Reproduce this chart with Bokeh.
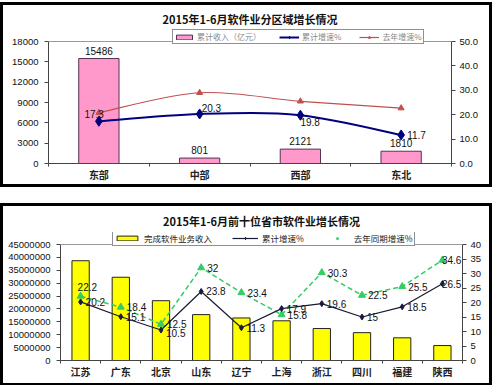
from bokeh.plotting import figure
from bokeh.models import (Range1d, LinearAxis, FixedTicker, NumeralTickFormatter,
                          Legend, LegendItem, Span)
from bokeh.layouts import column
from bokeh.embed import file_html
from bokeh.resources import INLINE
from bokeh.core.properties import value

# ---------------- data: top chart ----------------
title_top = "2015年1-6月软件业分区域增长情况"
regions = ["东部", "中部", "西部", "东北"]
region_revenue = [15486, 801, 2121, 1810]
region_growth = [17.3, 20.3, 19.8, 11.7]
region_growth_last = [20.8, 29.0, 25.5, 22.7]
top_left_ticks = [0, 3000, 6000, 9000, 12000, 15000, 18000]
top_right_ticks = [0, 10, 20, 30, 40, 50]
top_legend = ["累计收入（亿元）", "累计增速%", "去年增速%"]

# ---------------- data: bottom chart ----------------
title_bot = "2015年1-6月前十位省市软件业增长情况"
provinces = ["江苏", "广东", "北京", "山东", "辽宁", "上海", "浙江", "四川", "福建", "陕西"]
prov_revenue = [38700000, 32300000, 23200000, 17800000, 16500000,
                15400000, 12400000, 10800000, 8800000, 5800000]
prov_growth = [20.2, 15.1, 10.5, 23.8, 11.3, 17.9, 19.6, 15, 18.5, 26.5]
prov_growth_last = [22.2, 18.4, 12.5, 32, 23.4, 15.8, 30.3, 22.5, 25.5, 34.6]
bot_left_ticks = [0, 5000000, 10000000, 15000000, 20000000, 25000000,
                  30000000, 35000000, 40000000, 45000000]
bot_right_ticks = [0, 5, 10, 15, 20, 25, 30, 35, 40]
bot_legend = ["完成软件业务收入", "累计增速%", "去年同期增速%"]

CJK = "Noto Sans CJK SC"
LAT = "Liberation Sans"
GRAY = "#444444"


def smooth(xs, ys):
    n = len(xs)
    d = dict(x0=[], y0=[], x1=[], y1=[], cx0=[], cy0=[], cx1=[], cy1=[])
    for i in range(n - 1):
        a = max(i - 1, 0)
        b = min(i + 2, n - 1)
        d["x0"].append(xs[i]); d["y0"].append(ys[i])
        d["x1"].append(xs[i + 1]); d["y1"].append(ys[i + 1])
        d["cx0"].append(xs[i] + (xs[i + 1] - xs[a]) / 6)
        d["cy0"].append(ys[i] + (ys[i + 1] - ys[a]) / 6)
        d["cx1"].append(xs[i + 1] - (xs[b] - xs[i]) / 6)
        d["cy1"].append(ys[i + 1] - (ys[b] - ys[i]) / 6)
    return d


def base_fig(title, cats, left_ticks, right_ticks, right_fmt, fw, fh, extra, mb, standoff):
    n = len(cats)
    xs = [i + 0.5 for i in range(n)]
    grow = (fh + extra) / fh          # head-room above the top tick for the legend
    lmax, rmax = left_ticks[-1], right_ticks[-1]
    p = figure(frame_width=fw, frame_height=fh + extra,
               x_range=Range1d(0, n), y_range=Range1d(0, lmax * grow),
               output_backend="svg", toolbar_location=None, title=title,
               min_border_left=mb[0], min_border_right=mb[1],
               min_border_top=mb[2], min_border_bottom=mb[3])
    p.title.align = "center"
    p.title.text_font = CJK
    p.title.text_font_size = "11px"
    p.title.text_font_style = "bold"
    p.title.text_color = "#111111"
    p.title.standoff = standoff
    p.xgrid.visible = False
    p.ygrid.visible = False
    p.outline_line_color = None
    p.background_fill_color = "white"
    p.border_fill_color = "white"
    p.add_layout(Span(location=lmax, dimension="width", line_color="#9a9a9a", line_width=1))

    xa = p.xaxis[0]
    xa.ticker = FixedTicker(ticks=xs, minor_ticks=list(range(n + 1)))
    xa.major_label_overrides = {x: c for x, c in zip(xs, cats)}
    xa.major_tick_line_color = None
    xa.major_tick_out = 0
    xa.major_tick_in = 0
    xa.minor_tick_in = 0
    xa.minor_tick_out = 3
    xa.minor_tick_line_color = GRAY
    xa.axis_line_color = GRAY
    xa.major_label_text_font = CJK
    xa.major_label_text_font_size = "10px"
    xa.major_label_text_font_style = "bold"
    xa.major_label_text_color = "#222222"
    xa.major_label_standoff = 0

    ya = p.yaxis[0]
    ya.ticker = FixedTicker(ticks=left_ticks)
    ya.formatter = NumeralTickFormatter(format="0")
    ya.bounds = (0, lmax)
    ya.major_tick_in = 0
    ya.major_tick_out = 4
    ya.axis_line_color = GRAY
    ya.major_tick_line_color = GRAY
    ya.major_label_text_font = LAT
    ya.major_label_text_font_size = "9.5px"
    ya.major_label_text_color = "#111111"
    ya.major_label_standoff = 6

    p.extra_y_ranges = {"r": Range1d(0, rmax * grow)}
    ra = LinearAxis(y_range_name="r", ticker=FixedTicker(ticks=right_ticks),
                    formatter=NumeralTickFormatter(format=right_fmt), bounds=(0, rmax))
    ra.major_tick_in = 0
    ra.major_tick_out = 4
    ra.axis_line_color = GRAY
    ra.major_tick_line_color = GRAY
    ra.major_label_text_font = LAT
    ra.major_label_text_font_size = "9.5px"
    ra.major_label_text_color = "#111111"
    ra.major_label_standoff = 4
    p.add_layout(ra, "right")
    return p, xs


def num_labels(p, xs, ys, texts, dx, dy, align="left", rname=None, baseline="middle"):
    kw = {}
    if rname:
        kw["y_range_name"] = rname
    p.text(x=xs, y=ys, text=texts, x_offset=dx, y_offset=dy,
           text_font=value(LAT), text_font_size="10px", text_color="#111111",
           text_align=align, text_baseline=baseline, **kw)


# ================= top figure =================
p1, xs1 = base_fig(title_top, regions, top_left_ticks, top_right_ticks, "0.0",
                   403, 122, 12, (45, 38, 24, 19), 6)

bars1 = p1.vbar(x=xs1, top=region_revenue, width=0.4, fill_color="#ff99cc",
                line_color="#553355", line_width=1)
red_line = p1.bezier(line_color="#c0504d", line_width=1.2, y_range_name="r",
                     **smooth(xs1, region_growth_last))
red_pts = p1.scatter(xs1, region_growth_last, marker="triangle", size=6,
                     color="#c0504d", y_range_name="r")
blue_line = p1.bezier(line_color="#000080", line_width=2, y_range_name="r",
                      **smooth(xs1, region_growth))
blue_pts = p1.scatter(xs1, region_growth, marker="diamond", size=10,
                      color="#000080", y_range_name="r")

num_labels(p1, xs1, region_revenue, [str(v) for v in region_revenue], 0, -4,
           align="center", baseline="bottom")
g = [str(v) for v in region_growth]
num_labels(p1, xs1[0:1], region_growth[0:1], g[0:1], 5, -7, align="right", rname="r")
num_labels(p1, xs1[1:2], region_growth[1:2], g[1:2], 2, -6, rname="r")
num_labels(p1, xs1[2:3], region_growth[2:3], g[2:3], 0, 7, rname="r")
num_labels(p1, xs1[3:4], region_growth[3:4], g[3:4], 6, 0, rname="r")

leg1 = Legend(items=[LegendItem(label=top_legend[0], renderers=[bars1]),
                     LegendItem(label=top_legend[1], renderers=[blue_line, blue_pts]),
                     LegendItem(label=top_legend[2], renderers=[red_line, red_pts])],
              orientation="horizontal", location=(124, 119),
              border_line_color="#222222", border_line_width=1,
              background_fill_alpha=1, padding=1, margin=0, spacing=18,
              label_text_font=CJK, label_text_font_size="8px", label_text_color="#888888",
              glyph_height=6, glyph_width=20, label_standoff=3, label_height=8)
p1.add_layout(leg1)

# ================= bottom figure =================
p2, xs2 = base_fig(title_bot, provinces, bot_left_ticks, bot_right_ticks, "0",
                   402, 116, 12, (57, 27, 25, 23), 8)

bars2 = p2.vbar(x=xs2, top=prov_revenue, width=0.43, fill_color="#ffff00",
                line_color="#222222", line_width=1)
green_line = p2.line(xs2, prov_growth_last, line_color="#33cc66", line_width=1.5,
                     line_dash="5 3", y_range_name="r")
green_pts = p2.scatter(xs2, prov_growth_last, marker="triangle", size=7,
                       color="#33cc66", y_range_name="r")
black_line = p2.line(xs2, prov_growth, line_color="#1a1a33", line_width=1.2,
                     y_range_name="r")
black_pts = p2.scatter(xs2, prov_growth, marker="diamond", size=6,
                       color="#1a1a40", y_range_name="r")

gl = [str(v) for v in prov_growth_last]
gb = [str(v) for v in prov_growth]
num_labels(p2, xs2[0:1], prov_growth_last[0:1], gl[0:1], -3, -9, rname="r")
num_labels(p2, xs2[1:-1], prov_growth_last[1:-1], gl[1:-1], 6, 0, rname="r")
num_labels(p2, xs2[-1:], prov_growth_last[-1:], gl[-1:], 19, 0, align="right", rname="r")
num_labels(p2, xs2[0:2], prov_growth[0:2], gb[0:2], 5, 0, rname="r")
num_labels(p2, xs2[2:3], prov_growth[2:3], gb[2:3], 5, 3, rname="r")
num_labels(p2, xs2[3:-1], prov_growth[3:-1], gb[3:-1], 5, 0, rname="r")
num_labels(p2, xs2[-1:], prov_growth[-1:], gb[-1:], 19, 0, align="right", rname="r")

leg2 = Legend(items=[LegendItem(label=bot_legend[0], renderers=[bars2]),
                     LegendItem(label=bot_legend[1], renderers=[black_line, black_pts]),
                     LegendItem(label=bot_legend[2], renderers=[green_pts])],
              orientation="horizontal", location=(52, 114),
              border_line_color="#222222", border_line_width=1,
              background_fill_alpha=1, padding=1, margin=0, spacing=20,
              label_text_font=CJK, label_text_font_size="8.5px", label_text_color="#222222",
              glyph_height=6, glyph_width=26, label_standoff=4, label_height=8)
p2.add_layout(leg2)

box = {"border": "3px solid black", "background-color": "white"}
layout = column(column(p1, styles=box), column(p2, styles=box), spacing=16,
                margin=(2, 0, 0, 0))
open("out.html", "w").write(file_html(layout, INLINE))
